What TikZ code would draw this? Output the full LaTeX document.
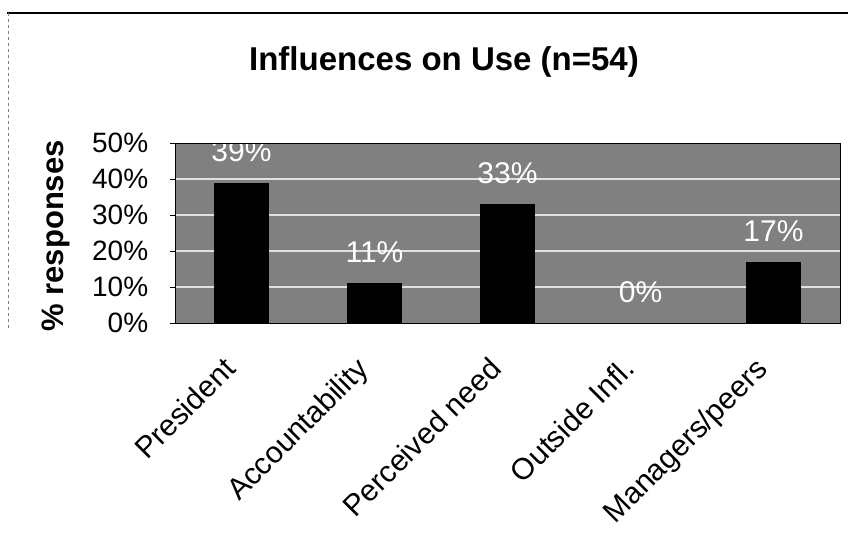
\documentclass[tikz,border=0pt]{standalone}
\usepackage{fontspec}
\setmainfont{Liberation Sans}
\usetikzlibrary{positioning}

\definecolor{plotbg}{gray}{0.5}
\tikzset{
  gridline/.style={line width=1.2pt, color=white!88!black},
  barbox/.style={fill=black},
  vallabel/.style={font=\fontsize{30}{30}\selectfont, text=white, inner sep=0pt},
  ticklabel/.style={font=\fontsize{28}{28}\selectfont, anchor=east, inner sep=0pt},
  catlabel/.style={font=\fontsize{30}{30}\selectfont, rotate=45, anchor=north east, inner sep=0pt},
}

\begin{document}
\begin{tikzpicture}[x=1pt, y=-1pt]
	\useasboundingbox (0,0) rectangle (848,559);
	\draw[line width=1.2pt] (7,13) -- (848,13);
	\draw[gray, dashed] (8,13) -- (8,330);
	\node[font=\bfseries\fontsize{33}{33}\selectfont] (title) at (444,62) {Influences on Use (n=54)};
	\begin{scope}[shift={(175,323)}, x=133pt, y=3.6pt]
		\fill[plotbg] (0,0) rectangle (5,50);
		\foreach \g in {10,20,30,40} \draw[gridline] (0,\g) -- (5,\g);
		\foreach \g in {0,10,...,50} {
			\draw (-0.035,\g) -- (0,\g);
			\node[ticklabel] (tick\g) at (-0.2,\g) {\g\%};
		}
		\foreach \val [count=\i] in {39,11,33,0,17} {
			\fill[barbox] (\i-0.707,0) rectangle (\i-0.293,\val);
			\node[vallabel] (val\i) at (\i-0.5,\val+8.6) {\val\%};
		}
		\foreach \lab [count=\i] in {President,Accountability,Perceived need,Outside Infl.,Managers/peers}
			\node[catlabel] (cat\i) at (\i-0.65,-9) {\lab};
		\draw (0,0) rectangle (5,50);
		\node[font=\bfseries\fontsize{31}{31}\selectfont, rotate=90] (ytitle) at (-0.895,24.2) {\% responses};
	\end{scope}
\end{tikzpicture}
\end{document}
